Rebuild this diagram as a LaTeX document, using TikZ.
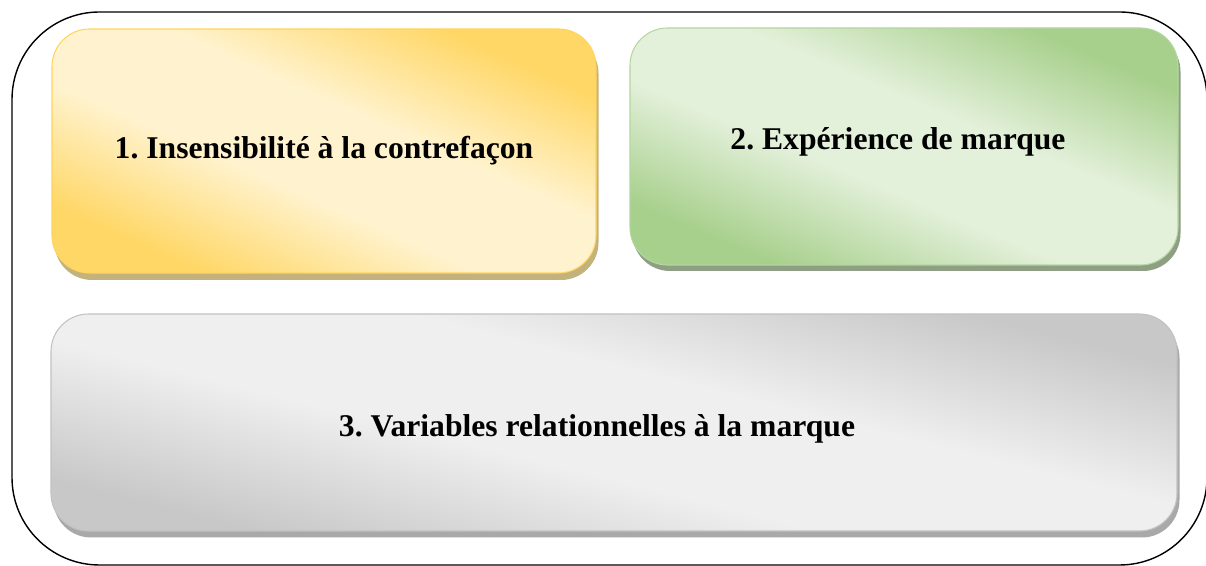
\documentclass[tikz,border=0pt]{standalone}
\usepackage{fontspec}
\setmainfont{Liberation Serif}
\frenchspacing
\usetikzlibrary{positioning,shadows}

\definecolor{yellowDark}{HTML}{FFD766}
\definecolor{yellowLight}{HTML}{FFF3CF}
\definecolor{yellowLine}{HTML}{FFD45E}
\definecolor{yellowShadow}{HTML}{C4B27C}
\definecolor{greenDark}{HTML}{A8D08D}
\definecolor{greenLight}{HTML}{E3F0DA}
\definecolor{greenLine}{HTML}{B4D69F}
\definecolor{greenShadow}{HTML}{8E9F83}
\definecolor{grayDark}{HTML}{C8C8C8}
\definecolor{grayLight}{HTML}{EFEFEF}
\definecolor{grayLine}{HTML}{C2C2C2}
\definecolor{grayShadow}{HTML}{A9A9A9}

% band shading: dark corners, broad light middle
\pgfdeclareverticalshading[cardDark,cardLight]{cardband}{100bp}{
  color(0bp)=(cardDark); color(26bp)=(cardDark); color(43bp)=(cardLight);
  color(57bp)=(cardLight); color(74bp)=(cardDark); color(100bp)=(cardDark)}

\tikzset{
  card/.style={rounded corners=0.75cm, line width=0.6pt, inner sep=0pt},
  cardtext/.style={font=\fontsize{18}{22}\selectfont\bfseries},
  yellowcard/.style={card, draw=yellowLine,
    /utils/exec={\colorlet{cardDark}{yellowDark}\colorlet{cardLight}{yellowLight}},
    shade, shading=cardband, shading angle=-24,
    drop shadow={shadow xshift=0.05cm, shadow yshift=-0.14cm, opacity=1, fill=yellowShadow}},
  greencard/.style={card, draw=greenLine,
    /utils/exec={\colorlet{cardDark}{greenDark}\colorlet{cardLight}{greenLight}},
    shade, shading=cardband, shading angle=-23,
    drop shadow={shadow xshift=0.05cm, shadow yshift=-0.12cm, opacity=1, fill=greenShadow}},
  graycard/.style={card, draw=grayLine,
    /utils/exec={\colorlet{cardDark}{grayDark}\colorlet{cardLight}{grayLight}},
    shade, shading=cardband, shading angle=-14,
    drop shadow={shadow xshift=0.05cm, shadow yshift=-0.13cm, opacity=1, fill=grayShadow}}
}

\begin{document}
\begin{tikzpicture}
  \useasboundingbox (0,0) rectangle (24.12,11.32);

  \node (frame) at (12.19,5.55) [draw, line width=0.8pt, rounded corners=1.75cm,
    minimum width=23.9cm, minimum height=11.06cm] {};

  \node (insens) at (6.48,8.30) [yellowcard, minimum width=10.88cm, minimum height=4.88cm,
    label={[cardtext]center:1. Insensibilité à la contrefaçon}] {};
  \node (experience) at (18.08,8.39) [greencard, minimum width=10.96cm, minimum height=4.74cm,
    label={[cardtext,shift={(-0.12,0.1)}]center:2. Expérience de marque}] {};
  \node (relation) at (12.28,2.87) [graycard, minimum width=22.52cm, minimum height=4.34cm,
    label={[cardtext,shift={(-0.34,-0.12)}]center:3. Variables relationnelles à la marque}] {};
\end{tikzpicture}
\end{document}
